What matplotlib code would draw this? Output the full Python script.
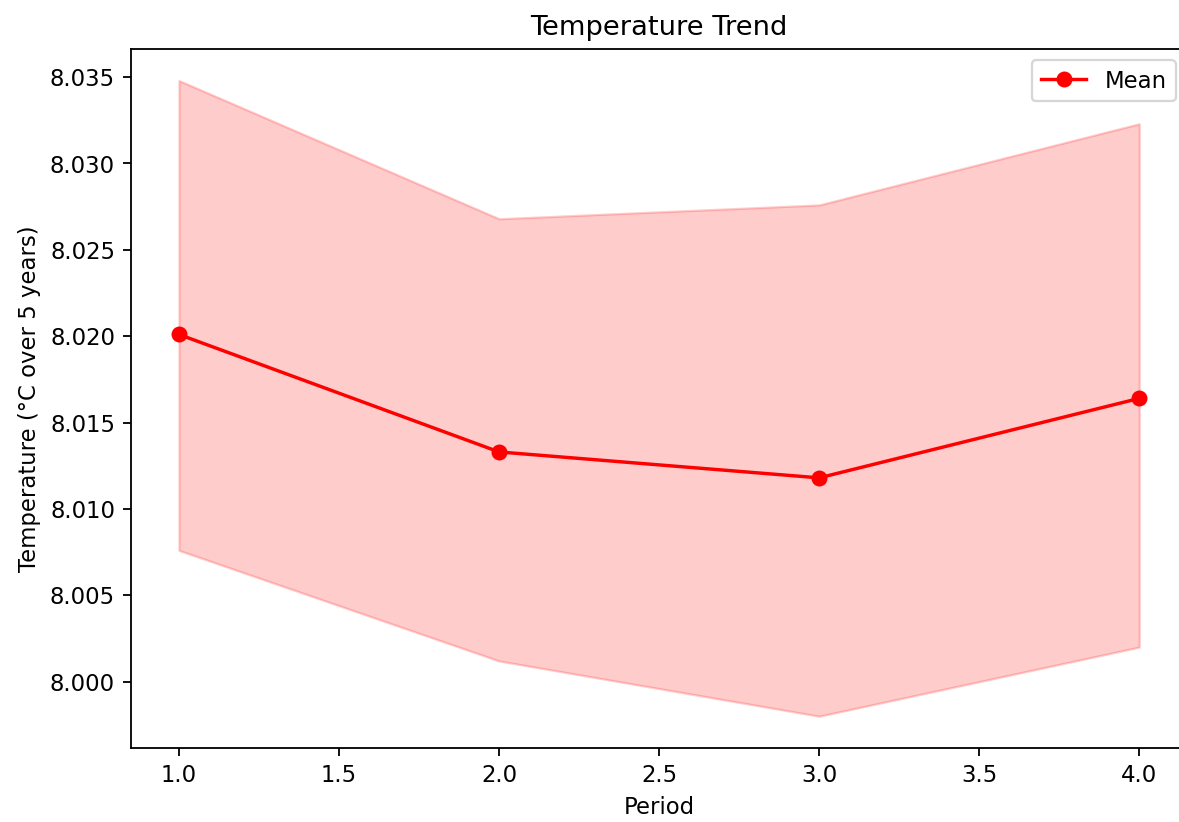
import matplotlib
matplotlib.use("Agg")
import matplotlib.pyplot as plt

periods = [1, 2, 3, 4]
mean_temp = [8.0201, 8.0133, 8.0118, 8.0164]
upper_temp = [8.0348, 8.0268, 8.0276, 8.0323]
lower_temp = [8.0076, 8.0012, 7.9980, 8.0020]

DPI = 164
fig = plt.figure(figsize=(1179.2 / DPI, 822.2 / DPI), dpi=DPI)
ax = fig.add_axes([131 / 1179, 74 / 822, 1056 / 1179, 699 / 822])

ax.fill_between(periods, lower_temp, upper_temp, color="red", alpha=0.2)
ax.plot(periods, mean_temp, marker="o", color="red", label="Mean")

ax.set_title("Temperature Trend")
ax.set_xlabel("Period")
ax.set_ylabel("Temperature (°C over 5 years)")
ax.legend(loc="upper right")
ax.spines["right"].set_visible(False)

fig.savefig("out.png", dpi=DPI)
